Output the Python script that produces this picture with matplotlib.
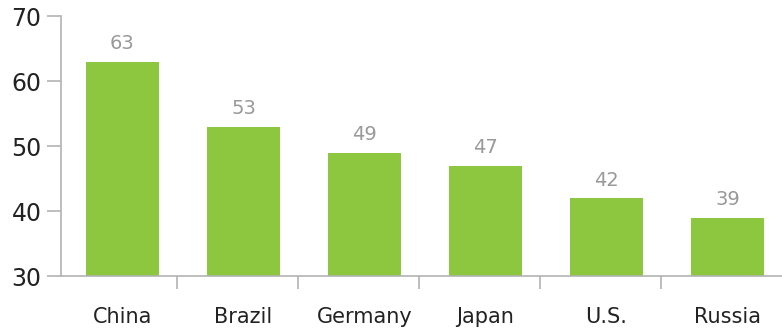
import numpy as np
import matplotlib.pyplot as plt

countries = ['China', 'Brazil', 'Germany', 'Japan', 'U.S.', 'Russia']
scores = [63, 53, 49, 47, 42, 39]
y_ticks = [30, 40, 50, 60, 70]

green = '#8dc63f'
axis_grey = '#b3b3b3'

plt.rcParams['font.family'] = ['DejaVu Sans']

fig = plt.figure(figsize=(7.82, 3.29), dpi=100)
ax = fig.add_axes([0.078, 0.161, 0.922, 0.79])

x = np.arange(len(countries))
bars = ax.bar(x, scores, width=0.6, color=green, bottom=0)

for xi, v in zip(x, scores):
    ax.annotate(str(v), (xi, v), xytext=(0, 6), textcoords='offset points',
                ha='center', va='bottom', fontsize=14, color='#999999')

ax.set_ylim(30, 70)
ax.set_xlim(-0.508, 5.45)
ax.set_yticks(y_ticks)
ax.set_xticks(x)
ax.set_xticklabels(countries)
# small separators between categories
ax.set_xticks(x[:-1] + 0.45, minor=True)

for s in ['top', 'right']:
    ax.spines[s].set_visible(False)
for s in ['left', 'bottom']:
    ax.spines[s].set_color(axis_grey)
    ax.spines[s].set_linewidth(1.2)

ax.tick_params(axis='y', length=10, width=1.2, color=axis_grey,
               labelsize=17, labelcolor='#222222', pad=4)
ax.tick_params(axis='x', which='major', length=0, labelsize=15,
               labelcolor='#222222', pad=22)
ax.tick_params(axis='x', which='minor', length=9, width=1.2, color=axis_grey)

fig.savefig('out.png', dpi=100)
